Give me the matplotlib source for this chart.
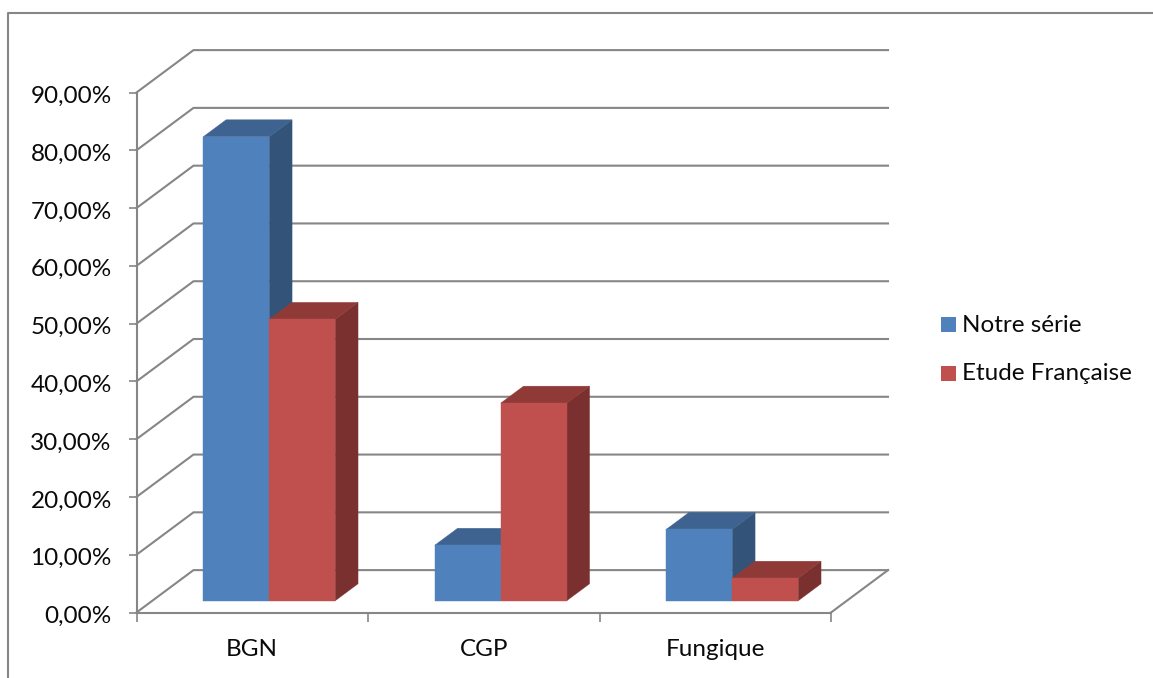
import matplotlib
matplotlib.use("Agg")
import matplotlib.pyplot as plt
from matplotlib.lines import Line2D
from matplotlib.patches import Polygon, Rectangle
from matplotlib.transforms import ScaledTranslation

plt.rcParams['font.family'] = ['Lato', 'DejaVu Sans']

categories = ["BGN", "CGP", "Fungique"]
notre_serie = [80.3, 9.6, 12.35]
etude_francaise = [48.7, 34.2, 3.9]
y_ticks = [0, 10, 20, 30, 40, 50, 60, 70, 80, 90]
y_tick_labels = ["0,00%", "10,00%", "20,00%", "30,00%", "40,00%",
                 "50,00%", "60,00%", "70,00%", "80,00%", "90,00%"]
series_names = ["Notre série", "Etude Française"]

W, H = 1153, 678
GRID = "#868686"
TEXT = "#0A0A0A"
FONT_SIZE = 17.5
BLUE = ("#4F81BD", "#3E6391", "#335379")
RED = ("#C0504D", "#903A38", "#7A302E")

# Oblique projection: depth z (0 front, 1 back) shifts a point right and up
DEPTH_X = 57.0 / 231.5
DEPTH_Y = 42.4 / 5.78
Z_FRONT, Z_BACK = 0.278, 0.678
BAR_W = 0.285
BAR_INSET = 0.220


def proj(x, y, z):
    return (x + z * DEPTH_X, y + z * DEPTH_Y)


fig = plt.figure(figsize=(W / 100, H / 100), dpi=100)
ax = fig.add_axes([136.5 / W, (H - 612.5) / H, (831 - 136.5) / W, 520 / H])
ax.set_xlim(0, 3)
ax.set_ylim(0, 90)
ax.patch.set_visible(False)

for s in ("top", "right"):
    ax.spines[s].set_visible(False)
for s in ("left", "bottom"):
    ax.spines[s].set_color(GRID)
    ax.spines[s].set_linewidth(1.5)

ax.set_yticks(y_ticks, y_tick_labels, fontsize=FONT_SIZE, color=TEXT)
ax.set_xticks([0, 1, 2, 3])
ax.set_xticklabels([])
ax.set_xticks([0.5, 1.5, 2.5], categories, minor=True, fontsize=FONT_SIZE, color=TEXT)
ax.tick_params(axis="y", length=5.8, width=1.2, color=GRID, pad=12)
ax.tick_params(axis="x", which="major", length=6.2, width=1.2, color=GRID)
ax.tick_params(axis="x", which="minor", length=0, pad=19)

# Nudge the value labels slightly below their tick marks
nudge = ScaledTranslation(0, -2 / 100, fig.dpi_scale_trans)
for label in ax.get_yticklabels():
    label.set_transform(label.get_transform() + nudge)

# Side-wall and back-wall gridlines, plus the floor outline
for v in y_ticks:
    xs, ys = zip(proj(0, v, 0), proj(0, v, 1), proj(3, v, 1))
    ax.plot(xs, ys, color=GRID, lw=1.5, clip_on=False, zorder=1,
            solid_joinstyle="miter")
xs, ys = zip(proj(3, 0, 0), proj(3, 0, 1))
ax.plot(xs, ys, color=GRID, lw=1.5, clip_on=False, zorder=1)


def draw_bar(x0, value, colors, zorder):
    x1 = x0 + BAR_W
    front = [proj(x0, 0, Z_FRONT), proj(x1, 0, Z_FRONT),
             proj(x1, value, Z_FRONT), proj(x0, value, Z_FRONT)]
    top = [proj(x0, value, Z_FRONT), proj(x1, value, Z_FRONT),
           proj(x1, value, Z_BACK), proj(x0, value, Z_BACK)]
    side = [proj(x1, 0, Z_FRONT), proj(x1, 0, Z_BACK),
            proj(x1, value, Z_BACK), proj(x1, value, Z_FRONT)]
    for pts, c in ((side, colors[2]), (top, colors[1]), (front, colors[0])):
        ax.add_patch(Polygon(pts, closed=True, facecolor=c, edgecolor=c,
                             lw=0.3, clip_on=False, zorder=zorder))


for i, (a, b) in enumerate(zip(notre_serie, etude_francaise)):
    draw_bar(i + BAR_INSET, a, BLUE, 3)
    draw_bar(i + BAR_INSET + BAR_W, b, RED, 4)

# Legend swatches and labels
for (name, col), top_px, mid_px in zip(zip(series_names, (BLUE[0], RED[0])),
                                       (317, 366), (326, 374)):
    fig.add_artist(Rectangle((941 / W, (H - top_px - 15) / H), 15 / W, 15 / H,
                             transform=fig.transFigure, facecolor=col,
                             edgecolor="none"))
    fig.text(962 / W, (H - mid_px) / H, name, fontsize=FONT_SIZE, va="center",
             ha="left", color=TEXT)

# Chart-area border, open towards the right and bottom edges
fig.add_artist(Line2D([8 / W, 8 / W, 1], [0, (H - 13) / H, (H - 13) / H],
                      transform=fig.transFigure, color=GRID, lw=1.5))

fig.savefig("out.png", dpi=100)
